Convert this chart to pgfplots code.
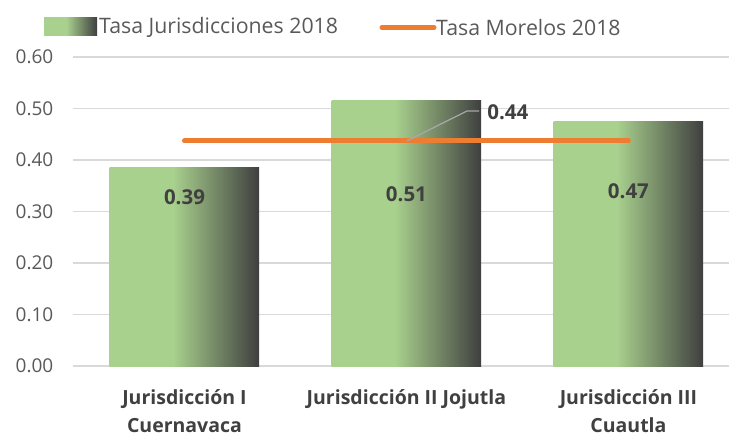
\documentclass[border=0pt]{standalone}
\usepackage{pgfplots}
\pgfplotsset{compat=1.18}
\usepackage{fontspec}
\setmainfont{Open Sans}
\definecolor{bargreen}{HTML}{A9D18E}
\definecolor{bardark}{HTML}{3F3F3F}
\definecolor{morange}{HTML}{ED7D31}
\definecolor{txtgray}{HTML}{595959}
\definecolor{lblgray}{HTML}{404040}
\definecolor{gridgray}{HTML}{D9D9D9}
\definecolor{leadgray}{HTML}{A6A6A6}
\pgfdeclarehorizontalshading{bargrad}{100bp}{color(0bp)=(bargreen); color(46bp)=(bargreen); color(75bp)=(bardark); color(100bp)=(bardark)}
\begin{document}
\begin{tikzpicture}[x=1pt,y=1pt]
\useasboundingbox (0,0) rectangle (729,437);
% legend
\fill[shading=bargrad] (44,401) rectangle (97,419);
\node[anchor=west,inner sep=0,text=txtgray,font=\fontsize{21.3}{24}\selectfont] at (99,409.5) {Tasa Jurisdicciones 2018};
\draw[morange,line width=5pt,line cap=round] (382,409.5) -- (434,409.5);
\node[anchor=west,inner sep=0,text=txtgray,font=\fontsize{21.3}{24}\selectfont] at (436,409.5) {Tasa Morelos 2018};
\begin{axis}[
  at={(73.5pt,71pt)}, anchor=south west,
  scale only axis, width=655.5pt, height=309pt,
  xmin=-0.5, xmax=2.453, ymin=0, ymax=0.6,
  clip=false,
  axis line style={draw=none},
  major tick length=0pt,
  ymajorgrids, grid style={draw=gridgray, line width=1.2pt},
  ytick={0,0.1,0.2,0.3,0.4,0.5,0.6},
  yticklabel style={/pgf/number format/fixed, /pgf/number format/fixed zerofill, /pgf/number format/precision=2, /pgf/number format/assume math mode=true, text=txtgray, font=\fontsize{19}{22}\selectfont, inner sep=0pt, xshift=-20pt},
  xtick={0,1,2},
  xticklabels={{Jurisdicción I\\Cuernavaca},{Jurisdicción II Jojutla},{Jurisdicción III\\Cuautla}},
  xticklabel style={align=center, text=lblgray, font=\fontsize{19.5}{28}\selectfont\bfseries, inner sep=0pt, yshift=-23pt},
]
\addplot[ybar, bar width=149.5pt, bar shift=0pt, draw=none, shading=bargrad] coordinates {(0,0.386)};
\addplot[ybar, bar width=149.5pt, bar shift=0pt, draw=none, shading=bargrad] coordinates {(1,0.516)};
\addplot[ybar, bar width=149.5pt, bar shift=0pt, draw=none, shading=bargrad] coordinates {(2,0.474)};
\addplot[morange, line width=5pt, line cap=round] coordinates {(0,0.437) (2,0.437)};
\draw[color=leadgray, line width=1.3pt] (axis cs:1.002,0.437) -- (axis cs:1.272,0.495) -- (axis cs:1.327,0.495);
\begin{scope}[every node/.style={text=lblgray, font=\fontsize{20.5}{24}\selectfont\bfseries}]
\node at (axis cs:0,0.328) {0.39};
\node at (axis cs:1,0.334) {0.51};
\node at (axis cs:2,0.340) {0.47};
\node at (axis cs:1.457,0.492) {0.44};
\end{scope}
\end{axis}
\end{tikzpicture}
\end{document}
